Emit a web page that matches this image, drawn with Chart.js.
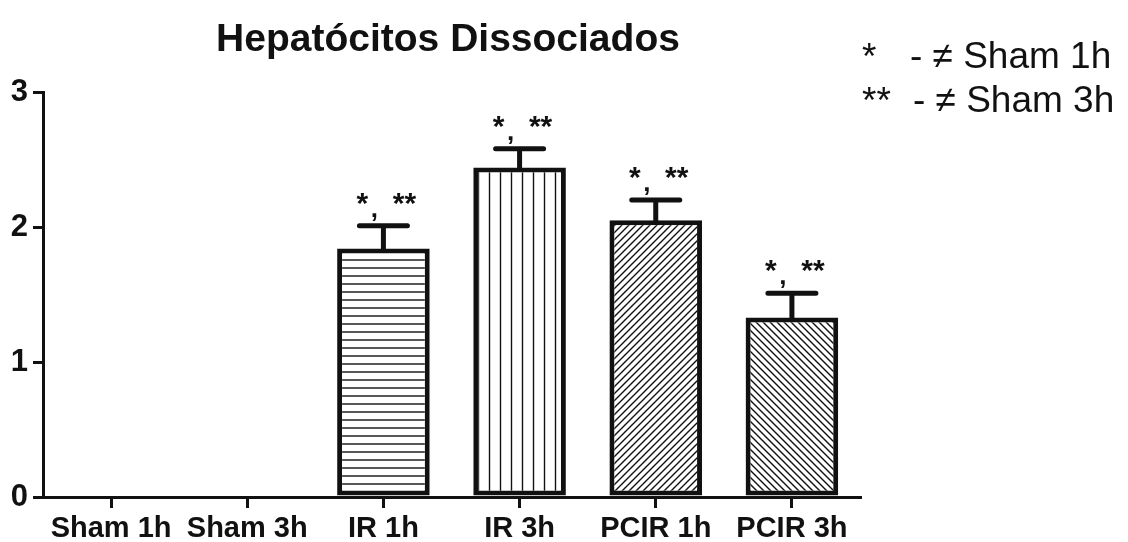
<!DOCTYPE html>
<html>
<head>
<meta charset="utf-8">
<script src="https://cdn.jsdelivr.net/npm/chart.js@4"></script>
<style>
  html, body { margin: 0; padding: 0; background: #fff; }
  #wrap { width: 1128px; height: 542px; }
</style>
</head>
<body>
<div id="wrap"><canvas id="chart" width="1128" height="542"></canvas></div>
<script>
// values
const groups = ["Sham 1h", "Sham 3h", "IR 1h", "IR 3h", "PCIR 1h", "PCIR 3h"];
const means = [0, 0, 1.84, 2.44, 2.05, 1.33];
const sem = [0, 0, 0.17, 0.14, 0.15, 0.18];
const marks = [false, false, true, true, true, true];
const yTicks = [0, 1, 2, 3];
const legendStars = ["*", "**"];
const legendText = ["- \u2260 Sham 1h", "- \u2260 Sham 3h"];
const title = "Hepat\u00f3citos Dissociados";
const FONT = "'Liberation Sans', Arial, sans-serif";

function makePattern(kind) {
  const c = document.createElement("canvas");
  const s = kind === "v" ? 11 : kind === "h" ? 8 : 7;
  c.width = s; c.height = s;
  const g = c.getContext("2d");
  g.fillStyle = "#fff";
  g.fillRect(0, 0, s, s);
  g.strokeStyle = "#111";
  g.lineWidth = 1.4;
  g.beginPath();
  if (kind === "h") { g.moveTo(0, s / 2); g.lineTo(s, s / 2); }
  else if (kind === "v") { g.moveTo(s / 2, 0); g.lineTo(s / 2, s); }
  else if (kind === "f") {
    g.moveTo(-1, s + 1); g.lineTo(s + 1, -1);
    g.moveTo(-1, 1); g.lineTo(1, -1);
    g.moveTo(s - 1, s + 1); g.lineTo(s + 1, s - 1);
  } else {
    g.moveTo(-1, -1); g.lineTo(s + 1, s + 1);
    g.moveTo(s - 1, -1); g.lineTo(s + 1, 1);
    g.moveTo(-1, s - 1); g.lineTo(1, s + 1);
  }
  g.stroke();
  return g.createPattern(c, "repeat");
}

const fills = ["#fff", "#fff", makePattern("h"), makePattern("v"), makePattern("f"), makePattern("b")];

const extras = {
  id: "extras",
  afterDatasetsDraw(chart) {
    const ctx = chart.ctx;
    const x = chart.scales.x, y = chart.scales.y;
    ctx.save();
    ctx.strokeStyle = "#111";
    ctx.fillStyle = "#111";
    ctx.lineWidth = 5;
    ctx.lineCap = "round";
    means.forEach((m, i) => {
      if (!sem[i]) return;
      const cx = x.getPixelForValue(i);
      const y0 = y.getPixelForValue(m);
      const y1 = y.getPixelForValue(m + sem[i]);
      ctx.beginPath();
      ctx.moveTo(cx, y0); ctx.lineTo(cx, y1);
      ctx.moveTo(cx - 24, y1); ctx.lineTo(cx + 24, y1);
      ctx.stroke();
      if (marks[i]) {
        ctx.font = "bold 30px " + FONT;
        ctx.textAlign = "center";
        ctx.textBaseline = "alphabetic";
        ctx.fillText("*", cx - 21, y1 - 13);
        ctx.fillText("**", cx + 21, y1 - 13);
        ctx.font = "bold 26px " + FONT;
        ctx.fillText(",", cx - 9, y1 - 9);
      }
    });
    // title
    ctx.font = "bold 39px " + FONT;
    ctx.textAlign = "center";
    ctx.textBaseline = "alphabetic";
    ctx.fillText(title, 448, 51);
    // significance key
    ctx.textAlign = "left";
    ctx.font = "37px " + FONT;
    legendStars.forEach((s, k) => {
      const by = 68 + k * 44;
      ctx.fillText(s, 862, by + 1);
      ctx.fillText(legendText[k], 910 + k * 3, by);
    });
    ctx.restore();
  }
};

new Chart(document.getElementById("chart"), {
  type: "bar",
  data: {
    labels: groups,
    datasets: [{
      data: means,
      backgroundColor: fills,
      borderColor: "#111",
      borderWidth: 5,
      borderSkipped: false,
      barPercentage: 0.68,
      categoryPercentage: 1
    }]
  },
  options: {
    responsive: false,
    animation: false,
    layout: { padding: { top: 92, right: 268, left: 0, bottom: 0 } },
    plugins: { legend: { display: false }, tooltip: { enabled: false } },
    scales: {
      x: {
        afterFit(s) { s.height = 45; },
        grid: { display: true, offset: false, drawOnChartArea: false, drawTicks: true, tickLength: 11, color: "#111", lineWidth: 3 },
        border: { display: true, color: "#111", width: 3 },
        ticks: { color: "#111", padding: 4, maxRotation: 0, autoSkip: false, font: { family: FONT, size: 29, weight: "bold" } }
      },
      y: {
        min: 0, max: 3,
        afterFit(s) { s.width = 43; },
        afterBuildTicks(s) { s.ticks = yTicks.map(v => ({ value: v })); },
        grid: { display: true, drawOnChartArea: false, drawTicks: true, tickLength: 10, color: "#111", lineWidth: 3 },
        border: { display: true, color: "#111", width: 3 },
        ticks: { color: "#111", padding: 5, font: { family: FONT, size: 31, weight: "bold" } }
      }
    }
  },
  plugins: [extras]
});
</script>
</body>
</html>
